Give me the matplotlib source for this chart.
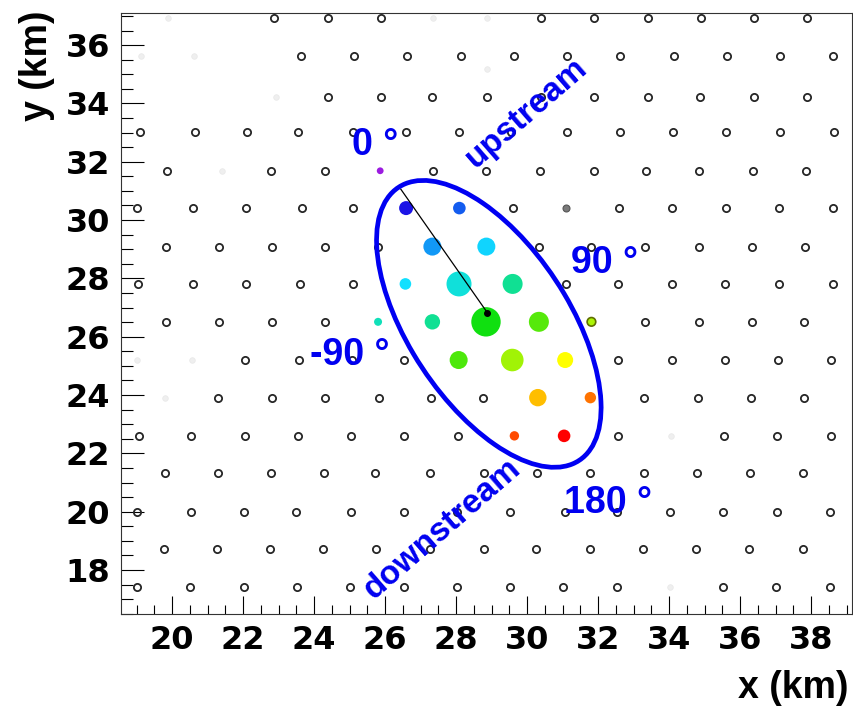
import matplotlib
matplotlib.use('Agg')
import matplotlib.pyplot as plt
from matplotlib.patches import Ellipse
from matplotlib.colors import LinearSegmentedColormap
from matplotlib.ticker import MultipleLocator

# surface detector array, one list of x positions (km) per row
row_y = [36.93, 35.63, 34.23, 33.02, 31.69, 30.41, 29.09, 27.81,
         26.51, 25.20, 23.91, 22.60, 21.33, 20.00, 18.71, 17.41]
row_x = [
    [22.88, 24.39, 25.88, 30.39, 31.88, 33.39, 34.89, 36.39, 37.88],
    [23.63, 25.13, 26.62, 28.13, 29.63, 31.13, 32.62, 34.14, 35.63, 37.13, 38.62],
    [24.40, 25.87, 27.32, 28.88, 30.38, 31.88, 33.39, 34.87, 36.38, 37.88],
    [19.09, 20.65, 22.11, 23.55, 25.10, 26.60, 28.07, 29.55, 31.12, 32.62, 34.12, 35.61, 37.11, 38.63],
    [19.85, 22.78, 24.31, 27.36, 28.85, 30.36, 31.87, 33.36, 34.85, 36.36, 37.85],
    [19.00, 20.58, 22.08, 23.66, 25.09, 29.60, 32.59, 34.09, 35.59, 37.09, 38.61],
    [19.83, 21.32, 22.81, 24.31, 25.81, 30.32, 31.80, 33.33, 34.85, 36.33, 37.83],
    [19.04, 20.60, 22.08, 23.61, 25.10, 31.08, 32.57, 34.08, 35.58, 37.08, 38.60],
    [19.82, 21.32, 22.81, 24.31, 33.32, 34.83, 36.32, 37.81],
    [22.06, 23.58, 25.07, 26.54, 32.56, 34.07, 35.56, 37.06, 38.56],
    [21.30, 22.82, 24.31, 25.83, 27.28, 28.75, 33.30, 34.81, 36.31, 37.81],
    [19.06, 20.53, 22.05, 23.54, 25.04, 26.54, 28.05, 32.55, 35.54, 37.04, 38.55],
    [19.79, 21.28, 22.79, 24.28, 25.72, 27.27, 28.77, 30.29, 31.78, 33.29, 34.78, 36.28, 37.77],
    [19.02, 20.52, 22.03, 23.49, 25.04, 26.53, 28.02, 29.52, 31.07, 32.53, 34.03, 35.52, 37.03, 38.54],
    [19.76, 21.26, 22.76, 24.25, 25.75, 27.26, 28.77, 30.25, 31.76, 33.27, 34.76, 36.26, 37.77],
    [19.00, 20.49, 22.02, 23.52, 25.00, 26.52, 28.02, 29.51, 31.01, 32.52, 35.51, 37.01, 38.52],
]

# stations not taking data
off_x = [19.89, 27.35, 28.87, 19.13, 20.62, 28.88, 22.93, 21.40, 19.02, 20.55, 19.80, 34.05, 34.03]
off_y = [36.93, 36.93, 36.93, 35.63, 35.63, 35.18, 34.23, 31.69, 25.20, 25.20, 23.91, 22.60, 17.41]
bad_x = [31.10]
bad_y = [30.41]

# triggered stations: signal and relative trigger time
trig_x = [25.86, 26.59, 28.09, 27.33, 28.85, 26.57, 28.08, 29.59, 25.80, 27.33,
          28.84, 30.33, 31.81, 28.07, 29.58, 31.07, 30.30, 31.78, 29.64, 31.04]
trig_y = [31.69, 30.41, 30.41, 29.09, 29.09, 27.81, 27.81, 27.81, 26.51, 26.51,
          26.51, 26.51, 26.51, 25.20, 25.20, 25.20, 23.91, 23.91, 22.60, 22.60]
trig_signal = [3.4, 7.0, 6.3, 9.0, 9.0, 5.8, 12.5, 10.0, 4.0, 7.7,
               14.7, 10.0, 4.3, 9.0, 11.3, 8.0, 8.7, 5.7, 4.7, 6.3]
trig_time = [0.00, 0.19, 0.27, 0.33, 0.39, 0.40, 0.43, 0.49, 0.46, 0.49,
             0.60, 0.66, 0.73, 0.65, 0.72, 0.80, 0.85, 0.91, 0.94, 1.00]

core_x, core_y = 28.88, 26.82
axis_x, axis_y = 26.44, 31.06

ell_center = (28.92, 26.44)
ell_major = 10.70
ell_minor = 4.72
ell_angle = 116.0

angle_text = ['0 \u00b0', '90 \u00b0', '-90 \u00b0', '180 \u00b0']
angle_x = [25.72, 32.18, 24.99, 32.29]
angle_y = [32.23, 28.17, 25.03, 19.94]


def main():
    plt.rcParams['font.family'] = ['Liberation Sans', 'DejaVu Sans']
    plt.rcParams['font.weight'] = 'bold'

    fig = plt.figure(figsize=(8.54, 7.07), dpi=100)
    ax = fig.add_axes([0.1417, 0.1315, 0.8560, 0.8501])

    for y, xs in zip(row_y, row_x):
        ax.plot(xs, [y] * len(xs), 'o', ls='none', mfc='none', mec='#262626',
                ms=5.2, mew=1.3, zorder=2)
    ax.plot(off_x, off_y, 'o', ls='none', mfc='#efefef', mec='#e8e8e8', ms=4.0, mew=0.5, zorder=2)
    ax.plot(bad_x, bad_y, 'o', ls='none', mfc='#7a7a7a', mec='#555555', ms=5.0, mew=0.8, zorder=2)

    palette = LinearSegmentedColormap.from_list(
        'rainbow_root', ['#9b1be0', '#1414e6', '#10e0ff', '#10e010', '#ffff00', '#ff0000'])
    sizes = [(1.44 * s) ** 2 for s in trig_signal]
    edges = ['none'] * len(trig_x)
    edges[12] = '#5f6e00'
    ax.scatter(trig_x, trig_y, s=sizes, c=trig_time, cmap=palette, vmin=0, vmax=1,
               edgecolors=edges, linewidths=1.2, zorder=3)

    ax.plot([core_x, axis_x], [core_y, axis_y], color='black', lw=0.9, zorder=4)
    ax.plot([core_x], [core_y], 'o', color='black', ms=4, zorder=5)

    ax.add_patch(Ellipse(ell_center, ell_major, ell_minor, angle=ell_angle,
                         fill=False, edgecolor='#0000f2', lw=3.4, zorder=4))

    for txt, x, y in zip(angle_text, angle_x, angle_y):
        ax.text(x, y, txt, color='#0000f0', fontsize=27, ha='center', va='baseline', zorder=6)
    ax.text(29.97, 33.67, 'upstream', color='#0000f0', fontsize=24, rotation=41,
            ha='center', va='center', rotation_mode='anchor', zorder=6)
    ax.text(27.62, 19.42, 'downstream', color='#0000f0', fontsize=24, rotation=41,
            ha='center', va='center', rotation_mode='anchor', zorder=6)

    ax.set_xlim(18.56, 39.15)
    ax.set_ylim(16.49, 37.1)
    ax.xaxis.set_major_locator(MultipleLocator(2))
    ax.xaxis.set_minor_locator(MultipleLocator(0.5))
    ax.yaxis.set_major_locator(MultipleLocator(2))
    ax.yaxis.set_minor_locator(MultipleLocator(0.5))
    ax.tick_params(axis='x', which='major', direction='in', length=13, width=0.8,
                   top=False, pad=8, labelsize=23, labelfontfamily='DejaVu Sans')
    ax.tick_params(axis='x', which='minor', direction='in', length=6.5, width=0.8, top=False)
    ax.tick_params(axis='y', which='major', direction='in', length=16.5, width=0.8,
                   right=False, pad=8, labelsize=23, labelfontfamily='DejaVu Sans')
    ax.tick_params(axis='y', which='minor', direction='in', length=8.6, width=0.8, right=False)
    for sp in ax.spines.values():
        sp.set_linewidth(0.8)
        sp.set_color('#333333')

    ax.set_xlabel('x (km)', fontsize=27, fontweight='bold', loc='right')
    ax.xaxis.set_label_coords(0.995, -0.093)
    ax.set_ylabel('y (km)', fontsize=27, fontweight='bold', loc='top')
    ax.yaxis.set_label_coords(-0.090, 1.005)

    fig.savefig('out.png', dpi=100)


if __name__ == '__main__':
    main()
